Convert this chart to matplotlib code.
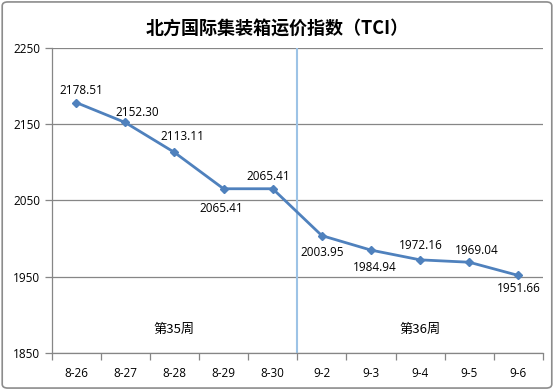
import matplotlib
matplotlib.use("Agg")
import matplotlib.pyplot as plt
from matplotlib.patches import FancyBboxPatch

plt.rcParams['font.family'] = ['Open Sans', 'Noto Sans CJK SC', 'DejaVu Sans']

dates = ['8-26', '8-27', '8-28', '8-29', '8-30', '9-2', '9-3', '9-4', '9-5', '9-6']
values = [2178.51, 2152.30, 2113.11, 2065.41, 2065.41, 2003.95, 1984.94, 1972.16, 1969.04, 1951.66]
week_labels = ['第35周', '第36周']
week_x = [2, 7]
title = '北方国际集装箱运价指数（TCI）'

# label offsets (pixels, dx right, dy up) — layout only
label_offsets = [(5, 12), (12, 10), (8, 16), (-2, -20), (-4, 12),
                 (0, -17), (4, -17), (1, 14), (7, 12), (0, -13)]

fig = plt.figure(figsize=(5.54, 3.9), dpi=100)
fig.patches.append(FancyBboxPatch((0.004, 0.005), 0.992, 0.99, boxstyle="round,pad=0,rounding_size=0.01",
                                  transform=fig.transFigure, fill=False, edgecolor='#8c8c8c', linewidth=1.2))
ax = fig.add_axes([51.5/554, 1 - 353/390, (543 - 51.5)/554, (353 - 48)/390])

x = list(range(len(dates)))
ax.plot(x, values, color='#4F81BD', linewidth=2, marker='D', markersize=4, zorder=3)
ax.set_xlim(-0.5, len(dates) - 0.5)
ax.set_ylim(1850, 2250)
ax.set_yticks([1850, 1950, 2050, 2150, 2250])
ax.yaxis.grid(True, color='#868686', linewidth=0.9)
ax.set_axisbelow(True)
ax.set_xticks(x)
ax.set_xticklabels(dates, fontsize=8.5, family=['Open Sans', 'DejaVu Sans'])
ax.set_xticks([i - 0.5 for i in range(len(dates) + 1)], minor=True)
ax.tick_params(axis='x', which='major', length=0, pad=10)
ax.tick_params(axis='x', which='minor', length=5, color='#868686', width=0.9)
ax.tick_params(axis='y', length=5, color='#868686', width=0.9, labelsize=8.5, pad=3)
for s in ['top', 'right']:
    ax.spines[s].set_visible(False)
for s in ['left', 'bottom']:
    ax.spines[s].set_color('#868686')
    ax.spines[s].set_linewidth(0.9)

ax.axvline(4.5, color='#9DC3E6', linewidth=1.5, zorder=2)

for xi, v, (dx, dy) in zip(x, values, label_offsets):
    ax.annotate(f'{v:.2f}', (xi, v), xytext=(dx * 0.72, dy * 0.72), textcoords='offset points',
                ha='center', va='center', fontsize=8.5)

for wx, wl in zip(week_x, week_labels):
    ax.text(wx, 1881, wl, ha='center', va='center', fontsize=9.5,
            family=['Noto Sans CJK SC', 'DejaVu Sans'])

fig.text(0.5, 1 - 28/390, title, ha='center', va='center', fontsize=13, fontweight='bold',
         family=['Noto Sans CJK SC', 'DejaVu Sans'])

fig.savefig('out.png', dpi=100)
